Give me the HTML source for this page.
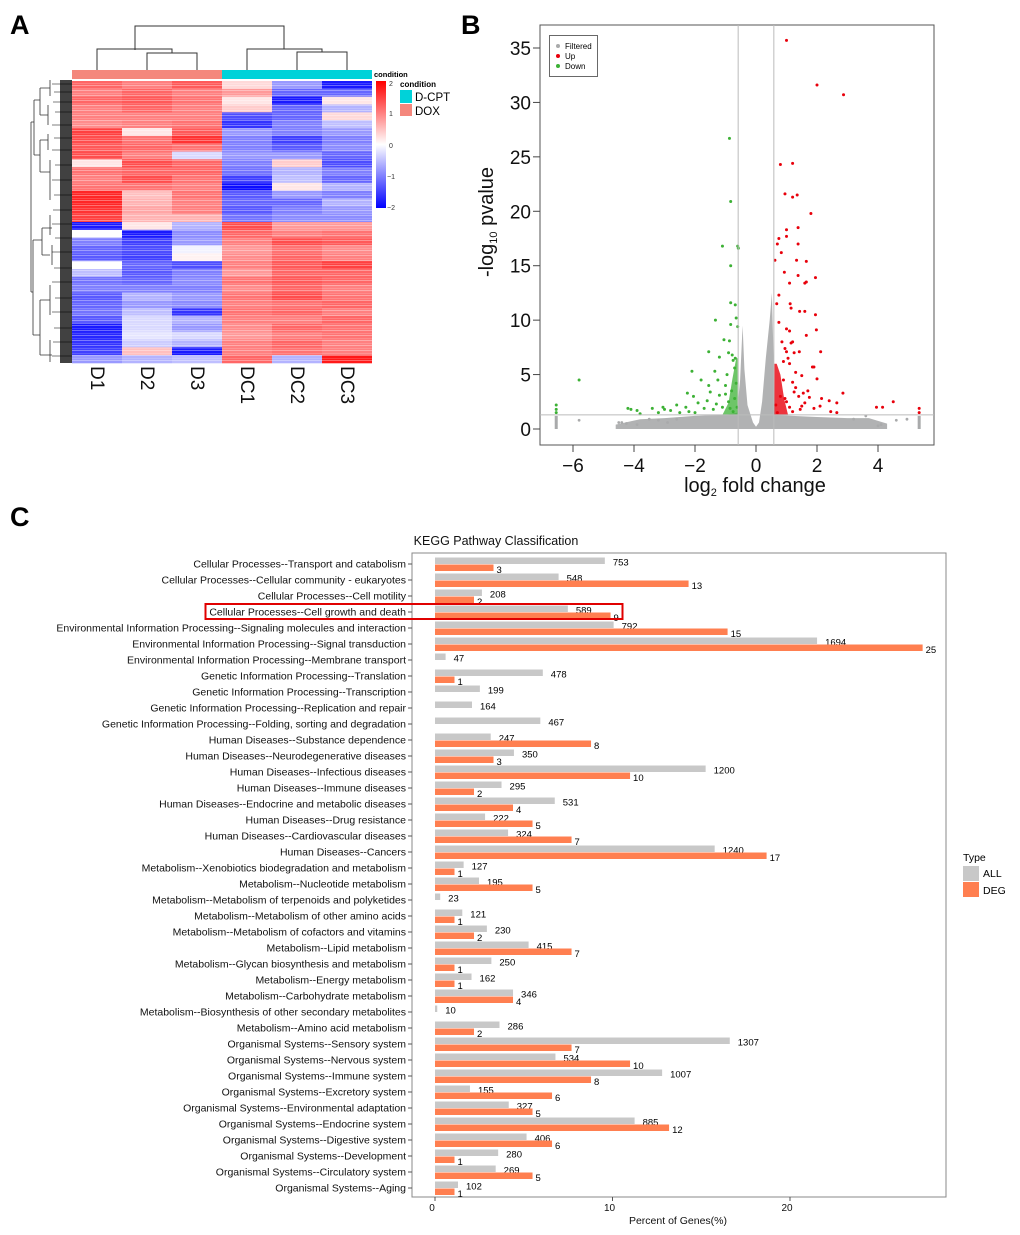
<!DOCTYPE html>
<html><head><meta charset="utf-8"><title>Figure</title>
<style>
html,body{margin:0;padding:0;background:#fff;}
svg{display:block;font-family:"Liberation Sans",Arial,sans-serif;}
</style></head>
<body>
<svg id="fig" width="1020" height="1235" viewBox="0 0 1020 1235" xmlns="http://www.w3.org/2000/svg">
<defs>
<linearGradient id="cbar" x1="0" y1="0" x2="0" y2="1">
<stop offset="0" stop-color="#ff0000"/><stop offset="0.5" stop-color="#ffffff"/><stop offset="1" stop-color="#0000ff"/>
</linearGradient>
<pattern id="stripes" width="6" height="5" patternUnits="userSpaceOnUse">
<rect x="0" y="0" width="6" height="1" fill="#fff" opacity="0.35"/>
<rect x="0" y="3" width="6" height="0.8" fill="#fff" opacity="0.2"/>
</pattern>
</defs>
<text x="10" y="34" font-size="27" font-weight="bold">A</text>
<text x="461" y="34" font-size="27" font-weight="bold">B</text>
<text x="10" y="526" font-size="27" font-weight="bold">C</text>

<g id="heat">
 <g stroke="#333" stroke-width="1" fill="none">
  <path d="M135,50 V26 H284 V49"/>
  <path d="M97,70 V49 H172 V53"/>
  <path d="M147,70 V53 H197 V70"/>
  <path d="M247,70 V49 H322 V52"/>
  <path d="M297,70 V52 H347 V70"/>
 </g>
 <rect x="72" y="70" width="150" height="9" fill="#f4877c"/>
 <rect x="222" y="70" width="150" height="9" fill="#00d2d9"/>
 <g id="cells"></g>
 <rect x="72" y="81" width="300" height="282" fill="url(#stripes)"/>
 <g stroke="#333" stroke-width="0.8" fill="none">
  <path d="M31,122 V292"/>
  <path d="M31,122 H34 M34,100 V155 M34,100 H40 M34,155 H40 M40,88 V115 M40,140 V172 M40,88 H50 M40,115 H48 M40,140 H48 M40,172 H50"/>
  <path d="M31,292 H33 M33,240 V335 M33,240 H42 M33,335 H40 M42,228 V255 M40,300 V355 M42,228 H52 M42,255 H50 M40,300 H50 M40,355 H52"/>
  <path d="M48,105 V125 M50,80 V96 M48,134 V150 M50,160 V200 M50,215 V235 M52,245 V265 M50,285 V315 M50,340 V362"/>
 </g>
 <rect x="60" y="80" width="12" height="283" fill="#111" opacity="0.8"/>
 <g stroke="#000" stroke-width="0.6">
  <path d="M52,84 H72 M54,92 H72 M53,102 H72 M55,112 H72 M52,125 H72 M54,138 H72 M52,150 H72 M55,165 H72 M52,180 H72 M54,195 H72 M53,210 H72 M52,224 H72 M55,238 H72 M52,252 H72 M54,268 H72 M52,282 H72 M55,298 H72 M52,312 H72 M54,328 H72 M53,342 H72 M52,356 H72"/>
 </g>
 <g font-size="19" fill="#111">
  <text transform="translate(91,366) rotate(90)">D1</text>
  <text transform="translate(141,366) rotate(90)">D2</text>
  <text transform="translate(191,366) rotate(90)">D3</text>
  <text transform="translate(241,366) rotate(90)">DC1</text>
  <text transform="translate(291,366) rotate(90)">DC2</text>
  <text transform="translate(341,366) rotate(90)">DC3</text>
 </g>
 <text x="374" y="77" font-size="7.5" font-weight="bold">condition</text>
 <rect x="376" y="81" width="10" height="127" fill="url(#cbar)"/>
 <g font-size="7" fill="#333">
  <text x="389" y="86">2</text><text x="389" y="116">1</text><text x="389" y="148">0</text><text x="387" y="179">−1</text><text x="387" y="210">−2</text>
 </g>
 <g>
  <text x="400" y="87" font-size="8" font-weight="bold">condition</text>
  <rect x="400" y="90" width="12" height="13" fill="#00d2d9"/>
  <text x="415" y="101" font-size="11.5">D-CPT</text>
  <rect x="400" y="104" width="12" height="12" fill="#f4877c"/>
  <text x="415" y="115" font-size="11.5">DOX</text>
 </g>
</g>

<g id="volcano">
 <rect x="540" y="25" width="394" height="420" fill="#fff" stroke="#555" stroke-width="1"/>
 <g id="vmarks"></g>
 <g id="vaxes" font-size="19" fill="#111"></g>
 <text x="755" y="492" font-size="20" text-anchor="middle" fill="#111">log<tspan font-size="11" dy="4">2</tspan><tspan dy="-4"> fold change</tspan></text>
 <text transform="translate(493,222) rotate(-90)" font-size="20" text-anchor="middle" fill="#111">-log<tspan font-size="11" dy="4">10</tspan><tspan dy="-4"> pvalue</tspan></text>
 <g>
  <rect x="549.5" y="35.5" width="48" height="41" fill="#fff" stroke="#444" stroke-width="0.8"/>
  <circle cx="558" cy="46" r="2" fill="#a9aaab"/><text x="565" y="49" font-size="8">Filtered</text>
  <circle cx="558" cy="56" r="2" fill="#e8000b"/><text x="565" y="59" font-size="8">Up</text>
  <circle cx="558" cy="66" r="2" fill="#3cb135"/><text x="565" y="69" font-size="8">Down</text>
 </g>
</g>

<g id="kegg">
 <text x="496" y="545" font-size="12.5" text-anchor="middle" fill="#111">KEGG Pathway Classification</text>
 <rect x="412" y="553" width="534" height="644" fill="#fff" stroke="#888" stroke-width="1"/>
 <g id="kbars"></g>
 <g id="kaxes" font-size="10" fill="#111"></g>
 <text x="678" y="1224" font-size="10.5" text-anchor="middle" fill="#111">Percent of Genes(%)</text>
 <rect x="205.5" y="604" width="417" height="15" fill="none" stroke="#e00000" stroke-width="2"/>
 <g>
  <text x="963" y="861" font-size="10.5">Type</text>
  <rect x="963" y="866" width="16" height="15" fill="#c8c8c8"/><text x="983" y="877" font-size="10.5">ALL</text>
  <rect x="963" y="882" width="16" height="15" fill="#ff7f50"/><text x="983" y="894" font-size="10.5">DEG</text>
 </g>
</g>
</svg>
<script>
var NS='http://www.w3.org/2000/svg';
function mk(tag,attrs,parent){var e=document.createElementNS(NS,tag);for(var k in attrs)e.setAttribute(k,attrs[k]);parent.appendChild(e);return e;}

/* ---------- Heatmap data ---------- */
var heatSamples=['D1','D2','D3','DC1','DC2','DC3'];
var heatValues=[
[1.2,1.0,1.3,0.3,-0.8,-1.8],[1.0,1.2,1.0,0.8,-1.2,-1.2],[1.2,1.3,1.1,0.2,-1.8,0.2],[1.0,1.2,1.0,0.4,-1.2,-0.6],
[1.0,1.0,1.0,-1.4,-1.2,0.3],[0.9,1.0,1.1,-1.6,-1.0,-0.5],[1.5,0.2,1.3,-0.8,-1.0,-0.8],[1.4,1.1,1.6,-1.0,-1.5,-1.0],
[1.3,1.2,1.1,-1.0,-1.3,-0.9],[1.4,1.0,-0.3,-0.8,-0.8,-1.2],[0.2,1.4,1.2,-1.0,0.4,-1.4],[1.1,1.2,1.2,-1.1,-0.6,-1.0],
[1.0,1.4,1.1,-1.5,-0.5,-1.2],[1.1,1.1,1.0,-1.9,0.2,-0.6],[1.7,0.5,1.1,-1.3,-0.8,-1.0],[1.7,0.6,1.0,-1.2,-1.2,-0.6],
[1.6,0.7,1.0,-1.3,-1.0,-0.8],[1.5,0.6,0.6,-1.1,-0.9,-0.9],[-1.8,0.2,-0.6,1.4,0.8,0.8],[0.0,-1.8,-0.9,1.2,1.0,1.1],
[-1.0,-1.5,-0.8,1.0,1.4,1.3],[-1.2,-1.4,-0.1,0.8,1.1,0.9],[-1.3,-1.5,0.1,0.9,1.2,1.0],[0.0,-1.2,-1.4,1.0,1.3,1.5],
[-0.5,-1.3,-1.0,0.8,1.2,1.2],[-1.1,-1.2,-0.9,1.1,1.3,1.2],[-1.0,-1.0,-1.0,0.9,1.2,1.0],[-1.3,-0.6,-0.8,1.1,1.4,1.1],
[-1.2,-0.8,-0.9,1.0,1.1,1.2],[-1.1,-0.5,-1.6,1.1,1.2,1.0],[-1.3,-0.3,-0.6,1.0,1.0,1.2],[-1.8,-0.3,-0.8,0.9,1.2,1.1],
[-1.7,-0.2,-0.3,0.8,1.0,1.1],[-1.6,-0.4,-0.6,1.0,1.2,1.0],[-1.5,0.5,-1.8,1.0,1.1,1.0],[-0.8,-0.6,-0.5,1.2,-0.6,1.8]
];
function heatColor(v){v=Math.max(-2,Math.min(2,v));var t=Math.abs(v)/2;var c=Math.round(255*(1-t));
 return v>=0?'rgb(255,'+c+','+c+')':'rgb('+c+','+c+',255)';}
(function(){
 var g=document.getElementById('cells');var x0=72,y0=81,cw=50,H=282,rh=H/heatValues.length;
 heatValues.forEach(function(row,i){row.forEach(function(v,j){
  var r=mk('rect',{x:x0+j*cw,y:(y0+i*rh).toFixed(2),width:cw,height:(rh+0.3).toFixed(2),fill:heatColor(v)},g);
  
  
 });});
})();

/* ---------- Volcano data ---------- */
var xTicksV=[-6,-4,-2,0,2,4];
var yTicksV=[0,5,10,15,20,25,30,35];
var fcCut=0.585, pCut=1.3;
var downX=[-0.87,-0.83,-1.1,-0.6,-0.58,-0.83,-0.83,-0.68,-1.33,-0.65,-0.83,-0.6,-1.05,-0.87,-1.55,-0.9,-0.78,-0.68,-0.75,-1.2,-2.1,-1.35,-0.7,-0.95,-1.8,-1.55,-2.25,-1.5,-1.2,-2.05,-1.0,-0.8,-2.6,-2.3,-1.9,-1.7,-3.05,-3.4,-4.2,-4.1,-3.9,-3.8,-2.8,-2.5,-1.4,-1.1,-0.9,-0.7,-0.65,-5.8,-6.55,-6.55,-6.55,-1.25,-1.0,-0.75,-0.85,-0.62,-3.2,-2.0,-3.0,-2.2,-1.6,-1.3];
var downY=[26.7,20.9,16.8,16.8,16.6,15,11.6,11.4,10,10.2,9.6,9.4,8.2,8.1,7.1,7,6.8,6.5,6.3,6.6,5.3,5.3,5.6,5.0,4.5,4,3.3,3.4,3.1,3.0,3.2,3.5,2.2,2.0,2.4,1.9,2.0,1.9,1.9,1.8,1.7,1.4,1.7,1.5,1.8,2.0,2.5,2.8,4.2,4.5,2.2,1.8,1.5,4.5,4.0,1.6,1.9,2.0,1.5,1.5,1.8,1.6,2.6,2.3];
var upX=[1.0,2.0,2.87,0.8,1.2,0.95,1.35,1.2,1.8,1.0,1.38,0.75,1.0,0.7,1.38,0.83,0.62,1.33,1.65,0.93,1.38,1.95,1.1,1.6,1.65,0.75,0.68,1.12,1.15,1.43,1.6,1.95,0.75,1.0,1.1,1.98,1.65,0.85,1.15,1.2,0.95,1.0,1.25,1.42,2.12,1.05,0.9,1.1,1.85,1.9,1.3,1.5,2.0,1.2,0.9,1.7,1.55,2.85,1.4,1.75,2.15,2.4,2.65,2.1,1.9,1.5,2.45,2.65,1.2,3.95,4.15,4.5,5.35,5.35,1.0,0.8,1.3,1.1,0.65,0.7,1.6,1.25,0.95,1.45];
var upY=[35.7,31.6,30.7,24.3,24.4,21.6,21.5,21.3,19.8,18.3,18.5,17.5,17.7,17.0,17.0,16.2,15.5,15.5,15.4,14.4,14.1,13.9,13.4,13.4,13.5,12.3,11.5,11.5,11.1,10.8,10.8,10.5,9.8,9.2,9.0,9.1,8.6,8.0,7.9,8.0,7.4,7.1,7.0,7.1,7.1,6.5,6.2,6.0,5.7,5.7,5.2,4.9,4.6,4.3,4.5,3.5,3.3,3.3,3.0,2.9,2.8,2.6,2.4,2.1,1.9,2.1,1.6,1.5,1.6,2.0,2.0,2.5,1.9,1.5,2.5,3.0,3.8,2.0,2.2,1.5,2.4,3.4,2.8,1.8];
var grayCloudX=[-4.6,-3.8,-3.0,-2.0,-1.0,-0.62,-0.52,-0.44,-0.38,-0.28,-0.1,0,0.1,0.2,0.32,0.45,0.52,0.58,0.62,1.2,2.0,3.0,3.7,4.3,4.3,-4.6];
var grayCloudY=[0.4,0.9,1.0,1.2,1.3,1.5,4.5,9.5,5.5,2.2,0.6,0.2,0.6,2.5,6.5,10.0,12.5,6.0,1.3,1.2,1.1,1.0,1.0,0.5,0.0,0.0];
var downCloudX=[-0.6,-1.1,-0.9,-0.78,-0.65,-0.6];
var downCloudY=[1.3,1.3,2.4,4.5,6.5,6.5];
var upCloudX=[0.6,1.05,0.92,0.8,0.68,0.6];
var upCloudY=[1.3,1.3,2.8,5.0,6.0,6.0];
var grayX=[-5.8,-4.5,-4.4,-4.25,-3.9,-3.5,-3.2,-2.9,-2.6,4.0,4.1,4.6,4.95,3.6,3.2];
var grayY=[0.8,0.6,0.6,0.5,0.4,0.9,0.8,0.6,0.9,0.3,0.4,0.8,0.9,1.2,0.9];
var stripX=[-6.55,5.35];
var stripTop=[1.2,1.2];

function vx(v){return 756+v*30.5;}
function vy(v){return 429-v*10.886;}
(function(){
 var g=document.getElementById('vmarks');
 function poly(xs,ys,fill,op,name){var pts=xs.map(function(x,i){return vx(x).toFixed(1)+','+vy(ys[i]).toFixed(1);}).join(' ');
  var p=mk('polygon',{points:pts,fill:fill,opacity:op},g);
  
  }
 poly(grayCloudX,grayCloudY,'#a9aaab',0.9,'filtered-cloud');
 stripX.forEach(function(x,i){var r=mk('rect',{x:vx(x)-1.5,y:vy(stripTop[i]),width:3,height:vy(0)-vy(stripTop[i]),fill:'#a9aaab'},g);
  
  });
 grayX.forEach(function(x,i){var c=mk('circle',{cx:vx(x),cy:vy(grayY[i]),r:1.4,fill:'#a9aaab'},g);
  
  });
 poly(downCloudX,downCloudY,'#3cb135',0.75,'down-cloud');
 poly(upCloudX,upCloudY,'#e8000b',0.8,'up-cloud');
 downX.forEach(function(x,i){var c=mk('circle',{cx:vx(x),cy:vy(downY[i]),r:1.5,fill:'#3cb135'},g);
  
  });
 upX.forEach(function(x,i){var c=mk('circle',{cx:vx(x),cy:vy(upY[i]),r:1.5,fill:'#e8000b'},g);
  
  });
 [-fcCut,fcCut].forEach(function(x){var l=mk('line',{x1:vx(x),x2:vx(x),y1:25,y2:445,stroke:'#bbb','stroke-width':1},g);
  
  });
 var h=mk('line',{x1:540,x2:934,y1:vy(pCut),y2:vy(pCut),stroke:'#bbb','stroke-width':1},g);
 
 
 var a=document.getElementById('vaxes');
 yTicksV.forEach(function(t){var y=vy(t);
  var l=mk('line',{x1:533,x2:540,y1:y,y2:y,stroke:'#444'},a);
  
  
  var tx=mk('text',{x:531,y:y+7,'text-anchor':'end'},a);tx.textContent=String(t);
  
  });
 xTicksV.forEach(function(t){var x=vx(t);
  var l=mk('line',{x1:x,x2:x,y1:445,y2:452,stroke:'#444'},a);
  
  
  var tx=mk('text',{x:x,y:472,'text-anchor':'middle'},a);tx.textContent=(t<0?'\u2212'+(-t):String(t));
  
  });
})();

/* ---------- KEGG data ---------- */
var keggCategories=['Cellular Processes--Transport and catabolism','Cellular Processes--Cellular community - eukaryotes','Cellular Processes--Cell motility','Cellular Processes--Cell growth and death','Environmental Information Processing--Signaling molecules and interaction','Environmental Information Processing--Signal transduction','Environmental Information Processing--Membrane transport','Genetic Information Processing--Translation','Genetic Information Processing--Transcription','Genetic Information Processing--Replication and repair','Genetic Information Processing--Folding, sorting and degradation','Human Diseases--Substance dependence','Human Diseases--Neurodegenerative diseases','Human Diseases--Infectious diseases','Human Diseases--Immune diseases','Human Diseases--Endocrine and metabolic diseases','Human Diseases--Drug resistance','Human Diseases--Cardiovascular diseases','Human Diseases--Cancers','Metabolism--Xenobiotics biodegradation and metabolism','Metabolism--Nucleotide metabolism','Metabolism--Metabolism of terpenoids and polyketides','Metabolism--Metabolism of other amino acids','Metabolism--Metabolism of cofactors and vitamins','Metabolism--Lipid metabolism','Metabolism--Glycan biosynthesis and metabolism','Metabolism--Energy metabolism','Metabolism--Carbohydrate metabolism','Metabolism--Biosynthesis of other secondary metabolites','Metabolism--Amino acid metabolism','Organismal Systems--Sensory system','Organismal Systems--Nervous system','Organismal Systems--Immune system','Organismal Systems--Excretory system','Organismal Systems--Environmental adaptation','Organismal Systems--Endocrine system','Organismal Systems--Digestive system','Organismal Systems--Development','Organismal Systems--Circulatory system','Organismal Systems--Aging'];
var allCounts=[753,548,208,589,792,1694,47,478,199,164,467,247,350,1200,295,531,222,324,1240,127,195,23,121,230,415,250,162,346,10,286,1307,534,1007,155,327,885,406,280,269,102];
var degCounts=[3,13,2,9,15,25,0,1,0,0,0,8,3,10,2,4,5,7,17,1,5,0,1,2,7,1,1,4,0,2,7,10,8,6,5,12,6,1,5,1];
var allTotal=7870, degTotal=91;
var xTicksK=[0,10,20];

function kx(p){return 435+p*17.75;}
function ky(i){return 564+i*16;}
(function(){
 var g=document.getElementById('kbars'),a=document.getElementById('kaxes');
 keggCategories.forEach(function(c,i){
  var y=ky(i);
  var t=mk('text',{x:406,y:y+3.5,'text-anchor':'end','font-size':'10.5'},a);t.textContent=c;
  
  
  var tk=mk('line',{x1:408,x2:412,y1:y,y2:y,stroke:'#555'},a);
  
  
  var wa=kx(allCounts[i]/allTotal*100)-kx(0);
  var b=mk('rect',{x:kx(0),y:y-6.5,width:wa,height:6.5,fill:'#c8c8c8'},g);
  
  
  var lt=mk('text',{x:kx(0)+wa+8,y:y+1.5,'font-size':'9.5'},g);lt.textContent=String(allCounts[i]);
  
  
  if(degCounts[i]>0){
   var wd=kx(degCounts[i]/degTotal*100)-kx(0);
   var d=mk('rect',{x:kx(0),y:y+0.5,width:wd,height:6.5,fill:'#ff7f50'},g);
   
   
   var ld=mk('text',{x:kx(0)+wd+3,y:y+9,'font-size':'9.5'},g);ld.textContent=String(degCounts[i]);
   
   
  }
 });
 xTicksK.forEach(function(t){var x=kx(t);
  var l=mk('line',{x1:x,x2:x,y1:1197,y2:1201,stroke:'#555'},a);
  
  
  var tx=mk('text',{x:x-3,y:1211,'text-anchor':'middle'},a);tx.textContent=String(t);
  
  });
})();
</script>
</body></html>
